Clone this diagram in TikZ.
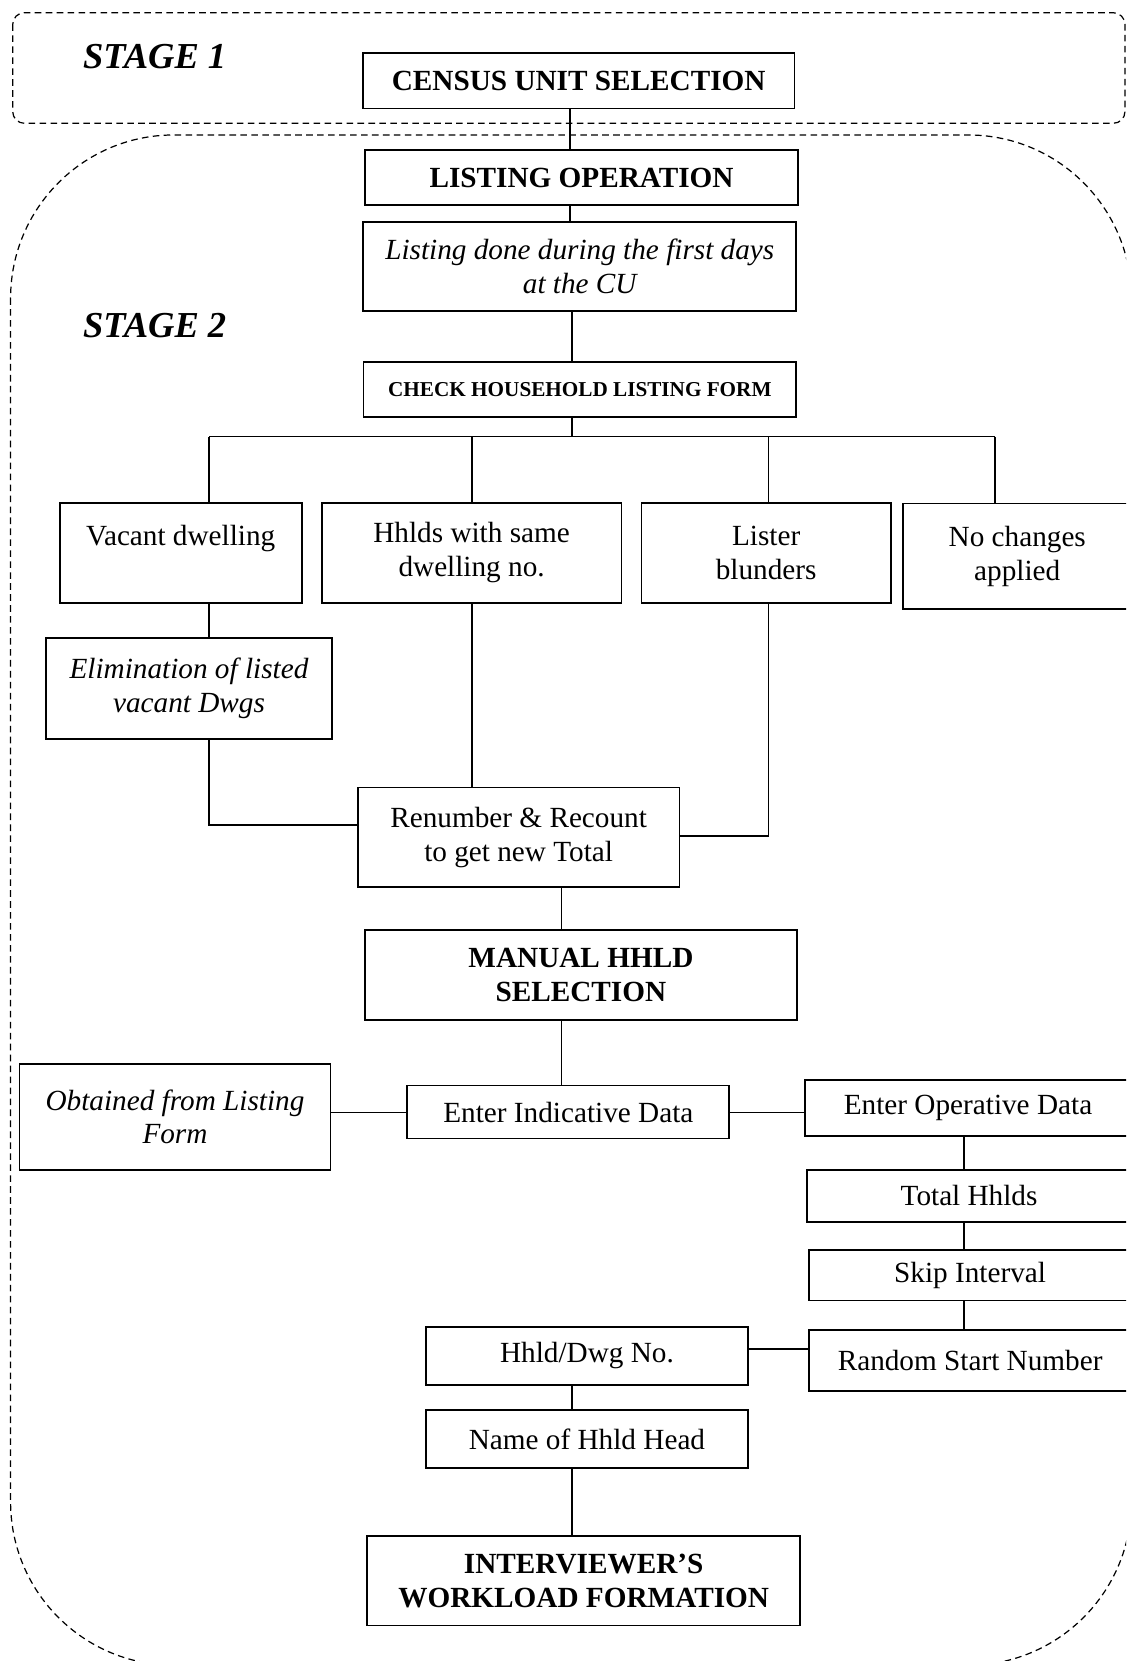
\documentclass[tikz,border=0pt]{standalone}
\usepackage{fontspec}
\setmainfont{Liberation Serif}
\newcommand\unitpx{0.4348pt}
\begin{document}
\begin{tikzpicture}[x=\unitpx,y=-\unitpx,
    box/.style={draw,line width=0.7pt,inner sep=0pt,align=center},
    boxsize/.style 2 args={minimum width=#1*\unitpx,minimum height=#2*\unitpx},
    plain/.style={box,font=\fontsize{12}{13.9}\selectfont},
    head/.style={box,font=\fontsize{12}{13.9}\selectfont\bfseries},
    note/.style={box,font=\fontsize{12}{13.9}\selectfont\itshape},
    link/.style={line width=0.6pt},
    stageline/.style={line width=0.5pt,dash pattern=on 2.7pt off 1.8pt},
    stagelabel/.style={anchor=base west,inner sep=0pt,font=\fontsize{15}{18}\selectfont\bfseries\itshape}]
  \useasboundingbox (0,0) rectangle (1063,1568);
  \clip (0,0) rectangle (1063,1568);
  \draw[stageline,rounded corners=4.8pt] (12,12) rectangle (1062,116.4);
  \draw[stageline,rounded corners=67pt] (10,127.4) rectangle (1068,1572);
  \node[stagelabel] (stage1) at (78,64.5) {STAGE 1};
  \node[stagelabel] (stage2) at (78,319) {STAGE 2};
  \node[head,boxsize={407.5}{52}] (census) at (546.3,76.3) {CENSUS UNIT SELECTION};
  \node[head,boxsize={409}{52}] (listop) at (549,167.6) {LISTING OPERATION};
  \node[note,boxsize={408.6}{84.3}] (listdone) at (547.3,251.5) {Listing done during the first days\\at the CU};
  \node[box,boxsize={408.3}{52},font=\fontsize{8.7}{10.5}\selectfont\bfseries] (check) at (547.4,367.4) {CHECK HOUSEHOLD LISTING FORM};
  \node[plain,boxsize={228.5}{94.4}] (vacant) at (170.6,521.7) {Vacant dwelling\\\phantom{x}};
  \node[plain,boxsize={282.8}{94.4}] (samedw) at (445.2,521.7) {Hhlds with same\\dwelling no.};
  \node[plain,boxsize={235.3}{94.4}] (lister) at (723.3,521.7) {Lister\\blunders};
  \node[plain,boxsize={215.5}{100}] (nochange) at (960.3,525.2) {No changes\\applied};
  \node[note,boxsize={270}{95}] (elim) at (178.4,650.1) {Elimination of listed\\vacant Dwgs};
  \node[plain,boxsize={303.8}{94.3}] (renum) at (489.6,790.5) {Renumber \& Recount\\to get new Total};
  \node[head,boxsize={407.5}{85}] (manual) at (548.4,920.5) {MANUAL HHLD\\SELECTION};
  \node[note,boxsize={293.7}{99.8}] (obtained) at (165.2,1054.3) {Obtained from Listing\\Form};
  \node[plain,boxsize={304}{50}] (indic) at (536.5,1049.8) {Enter Indicative Data};
  \node[plain,boxsize={308.4}{53}] (operat) at (913.8,1046.2) {Enter Operative Data};
  \node[plain,boxsize={306.4}{49}] (total) at (914.8,1129) {Total Hhlds};
  \node[plain,boxsize={304.4}{47.7}] (skip) at (915.8,1203.9) {Skip Interval};
  \node[plain,boxsize={304.4}{57.8}] (random) at (915.8,1284.4) {Random Start Number};
  \node[plain,boxsize={303.8}{55}] (hhldno) at (554.1,1280) {Hhld/Dwg No.};
  \node[plain,boxsize={303.8}{55}] (headname) at (554.1,1358.4) {Name of Hhld Head};
  \node[head,boxsize={409}{84.6}] (workload) at (551,1492.1) {INTERVIEWER’S\\WORKLOAD FORMATION};
  \coordinate (top) at (538,0);
  \coordinate (spine) at (539.8,0);
  \coordinate (midline) at (530.3,0);
  \coordinate (rightline) at (910.1,0);
  \coordinate (dropvac) at (197.4,412.2);
  \coordinate (dropsame) at (445.6,412.2);
  \coordinate (droplist) at (725.7,412.2);
  \coordinate (dropnoch) at (939.3,412.2);
  \coordinate (joinleft) at (0,778.8);
  \coordinate (joinright) at (0,789.2);
  \coordinate (row) at (0,1050);
  \coordinate (startrow) at (0,1273.5);
  \draw[link] (census.south -| top) -- (listop.north -| top);
  \draw[link] (listop.south -| top) -- (listdone.north -| top);
  \draw[link] (listdone.south -| spine) -- (check.north -| spine);
  \draw[link] (check.south -| spine) -- (dropvac -| spine);
  \draw[link] (dropvac) -- (dropnoch);
  \draw[link] (dropvac) -- (vacant.north -| dropvac);
  \draw[link] (dropsame) -- (samedw.north -| dropsame);
  \draw[link] (droplist) -- (lister.north -| droplist);
  \draw[link] (dropnoch) -- (nochange.north -| dropnoch);
  \draw[link] (vacant.south -| dropvac) -- (elim.north -| dropvac);
  \draw[link] (elim.south -| dropvac) |- (renum.west |- joinleft);
  \draw[link] (samedw.south -| dropsame) -- (renum.north -| dropsame);
  \draw[link] (lister.south -| droplist) |- (renum.east |- joinright);
  \draw[link] (renum.south -| midline) -- (manual.north -| midline);
  \draw[link] (manual.south -| midline) -- (indic.north -| midline);
  \draw[link] (obtained.east |- row) -- (indic.west |- row);
  \draw[link] (indic.east |- row) -- (operat.west |- row);
  \draw[link] (operat.south -| rightline) -- (total.north -| rightline);
  \draw[link] (total.south -| rightline) -- (skip.north -| rightline);
  \draw[link] (skip.south -| rightline) -- (random.north -| rightline);
  \draw[link] (hhldno.east |- startrow) -- (random.west |- startrow);
  \draw[link] (hhldno.south -| spine) -- (headname.north -| spine);
  \draw[link] (headname.south -| spine) -- (workload.north -| spine);
\end{tikzpicture}
\end{document}
